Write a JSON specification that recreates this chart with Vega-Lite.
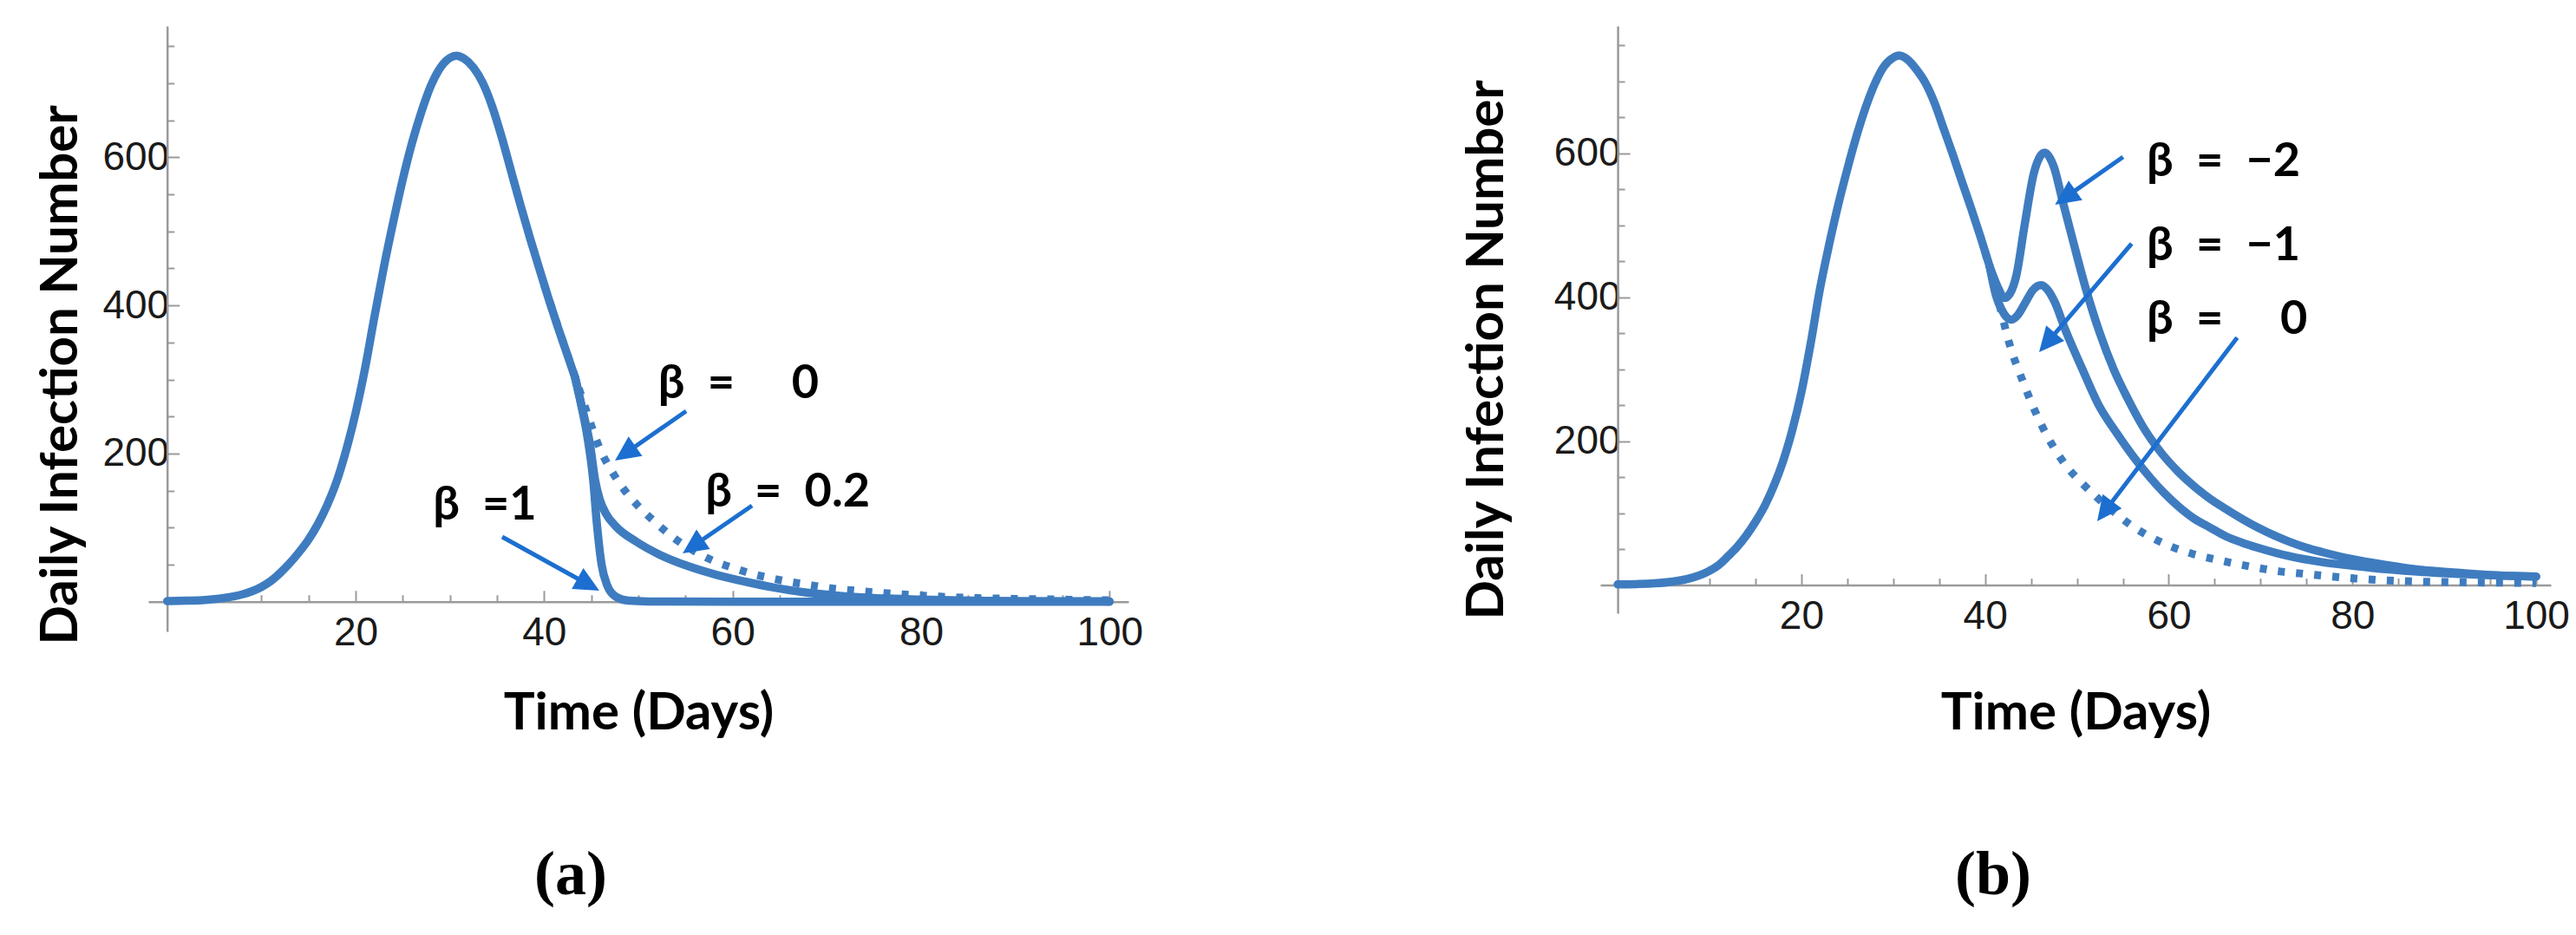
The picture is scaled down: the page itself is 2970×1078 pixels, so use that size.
{
  "$schema": "https://vega.github.io/schema/vega-lite/v6.json",
  "background": "white",
  "padding": {"left": 40, "top": 29, "right": 0, "bottom": 24},
  "spacing": 366,
  "config": {
    "view": {"stroke": null},
    "axis": {
      "grid": false,
      "domainColor": "#9a9a9a",
      "domainWidth": 2.5,
      "tickColor": "#9a9a9a",
      "tickWidth": 2,
      "labelFont": "Liberation Sans",
      "labelFontSize": 46,
      "labelColor": "#1a1a1a",
      "titleFont": "Lato",
      "titleFontSize": 60,
      "titleFontWeight": "bold",
      "titleColor": "#000000",
      "labelOverlap": false,
      "labelFlush": false
    }
  },
  "datasets": {
    "leftCurves": [
      {"series": "base", "day": 0, "value": 1},
      {"series": "base", "day": 2, "value": 1.5},
      {"series": "base", "day": 4, "value": 2.5},
      {"series": "base", "day": 6, "value": 5},
      {"series": "base", "day": 8, "value": 10},
      {"series": "base", "day": 10, "value": 20},
      {"series": "base", "day": 11, "value": 28},
      {"series": "base", "day": 12, "value": 39},
      {"series": "base", "day": 13, "value": 52},
      {"series": "base", "day": 14, "value": 67},
      {"series": "base", "day": 15, "value": 84},
      {"series": "base", "day": 16, "value": 105},
      {"series": "base", "day": 17, "value": 131},
      {"series": "base", "day": 18, "value": 163},
      {"series": "base", "day": 19, "value": 205},
      {"series": "base", "day": 20, "value": 255},
      {"series": "base", "day": 21, "value": 315},
      {"series": "base", "day": 22, "value": 385},
      {"series": "base", "day": 23, "value": 452},
      {"series": "base", "day": 24, "value": 513},
      {"series": "base", "day": 25, "value": 570},
      {"series": "base", "day": 26, "value": 620},
      {"series": "base", "day": 27, "value": 662},
      {"series": "base", "day": 28, "value": 697},
      {"series": "base", "day": 29, "value": 721},
      {"series": "base", "day": 30, "value": 734},
      {"series": "base", "day": 30.7, "value": 737},
      {"series": "base", "day": 31.5, "value": 733},
      {"series": "base", "day": 32.5, "value": 721},
      {"series": "base", "day": 33.5, "value": 700},
      {"series": "base", "day": 34.5, "value": 668},
      {"series": "base", "day": 35.5, "value": 627},
      {"series": "base", "day": 36.5, "value": 581},
      {"series": "base", "day": 37.5, "value": 535},
      {"series": "base", "day": 38.5, "value": 491},
      {"series": "base", "day": 39.5, "value": 449},
      {"series": "base", "day": 40.5, "value": 408},
      {"series": "base", "day": 41.5, "value": 369},
      {"series": "base", "day": 42.5, "value": 332},
      {"series": "base", "day": 43.3, "value": 302},
      {"series": "β = 1", "day": 43.3, "value": 302},
      {"series": "β = 1", "day": 44, "value": 262},
      {"series": "β = 1", "day": 44.6, "value": 222},
      {"series": "β = 1", "day": 45.2, "value": 165},
      {"series": "β = 1", "day": 45.6, "value": 105},
      {"series": "β = 1", "day": 46.1, "value": 50},
      {"series": "β = 1", "day": 46.7, "value": 22},
      {"series": "β = 1", "day": 47.6, "value": 7},
      {"series": "β = 1", "day": 49, "value": 1.5},
      {"series": "β = 1", "day": 51, "value": 0.5},
      {"series": "β = 1", "day": 60, "value": 0},
      {"series": "β = 1", "day": 100, "value": 0},
      {"series": "β = 0.2", "day": 43.3, "value": 302},
      {"series": "β = 0.2", "day": 44, "value": 263},
      {"series": "β = 0.2", "day": 44.9, "value": 210},
      {"series": "β = 0.2", "day": 45.4, "value": 165},
      {"series": "β = 0.2", "day": 45.9, "value": 138},
      {"series": "β = 0.2", "day": 46.6, "value": 118},
      {"series": "β = 0.2", "day": 47.6, "value": 102},
      {"series": "β = 0.2", "day": 49.8, "value": 81},
      {"series": "β = 0.2", "day": 52.2, "value": 64},
      {"series": "β = 0.2", "day": 55.3, "value": 48},
      {"series": "β = 0.2", "day": 58.4, "value": 36},
      {"series": "β = 0.2", "day": 61.4, "value": 27},
      {"series": "β = 0.2", "day": 64.5, "value": 19},
      {"series": "β = 0.2", "day": 67.5, "value": 13},
      {"series": "β = 0.2", "day": 70.6, "value": 9},
      {"series": "β = 0.2", "day": 73.7, "value": 6},
      {"series": "β = 0.2", "day": 80, "value": 3},
      {"series": "β = 0.2", "day": 90, "value": 1},
      {"series": "β = 0.2", "day": 100, "value": 0.5},
      {"series": "β = 0", "day": 40, "value": 428},
      {"series": "β = 0", "day": 41, "value": 389},
      {"series": "β = 0", "day": 42, "value": 351},
      {"series": "β = 0", "day": 43, "value": 314},
      {"series": "β = 0", "day": 44, "value": 276},
      {"series": "β = 0", "day": 45, "value": 238},
      {"series": "β = 0", "day": 46, "value": 204},
      {"series": "β = 0", "day": 47, "value": 180},
      {"series": "β = 0", "day": 48, "value": 160},
      {"series": "β = 0", "day": 49, "value": 143},
      {"series": "β = 0", "day": 50, "value": 129},
      {"series": "β = 0", "day": 52, "value": 105},
      {"series": "β = 0", "day": 54, "value": 84},
      {"series": "β = 0", "day": 56, "value": 68},
      {"series": "β = 0", "day": 58, "value": 55},
      {"series": "β = 0", "day": 60, "value": 46},
      {"series": "β = 0", "day": 62, "value": 38},
      {"series": "β = 0", "day": 64, "value": 32},
      {"series": "β = 0", "day": 66, "value": 27},
      {"series": "β = 0", "day": 68, "value": 23},
      {"series": "β = 0", "day": 70, "value": 19},
      {"series": "β = 0", "day": 74, "value": 14},
      {"series": "β = 0", "day": 78, "value": 10},
      {"series": "β = 0", "day": 82, "value": 7},
      {"series": "β = 0", "day": 86, "value": 5},
      {"series": "β = 0", "day": 90, "value": 4},
      {"series": "β = 0", "day": 95, "value": 3},
      {"series": "β = 0", "day": 100, "value": 2}
    ],
    "rightCurves": [
      {"series": "base", "day": 0, "value": 1},
      {"series": "base", "day": 2, "value": 1.5},
      {"series": "base", "day": 4, "value": 2.5},
      {"series": "base", "day": 6, "value": 5},
      {"series": "base", "day": 8, "value": 10},
      {"series": "base", "day": 10, "value": 20},
      {"series": "base", "day": 11, "value": 28},
      {"series": "base", "day": 12, "value": 40},
      {"series": "base", "day": 13, "value": 53},
      {"series": "base", "day": 14, "value": 69},
      {"series": "base", "day": 15, "value": 88},
      {"series": "base", "day": 16, "value": 110},
      {"series": "base", "day": 17, "value": 138},
      {"series": "base", "day": 18, "value": 172},
      {"series": "base", "day": 19, "value": 215},
      {"series": "base", "day": 20, "value": 268},
      {"series": "base", "day": 21, "value": 335},
      {"series": "base", "day": 22, "value": 410},
      {"series": "base", "day": 23, "value": 472},
      {"series": "base", "day": 24, "value": 528},
      {"series": "base", "day": 25, "value": 578},
      {"series": "base", "day": 26, "value": 624},
      {"series": "base", "day": 27, "value": 664},
      {"series": "base", "day": 28, "value": 697},
      {"series": "base", "day": 29, "value": 721},
      {"series": "base", "day": 30, "value": 733},
      {"series": "base", "day": 30.6, "value": 736},
      {"series": "base", "day": 31.5, "value": 731},
      {"series": "base", "day": 32.5, "value": 717},
      {"series": "base", "day": 33.5, "value": 698},
      {"series": "base", "day": 34.5, "value": 670},
      {"series": "base", "day": 35.5, "value": 634},
      {"series": "base", "day": 36.5, "value": 598},
      {"series": "base", "day": 37.5, "value": 560},
      {"series": "base", "day": 38.5, "value": 523},
      {"series": "base", "day": 39.5, "value": 484},
      {"series": "base", "day": 40.5, "value": 443},
      {"series": "β = −2", "day": 40.5, "value": 443},
      {"series": "β = −2", "day": 41, "value": 426},
      {"series": "β = −2", "day": 41.5, "value": 411},
      {"series": "β = −2", "day": 42.1, "value": 399},
      {"series": "β = −2", "day": 42.7, "value": 405},
      {"series": "β = −2", "day": 43.4, "value": 430},
      {"series": "β = −2", "day": 44.3, "value": 500},
      {"series": "β = −2", "day": 45.3, "value": 572},
      {"series": "β = −2", "day": 46, "value": 596},
      {"series": "β = −2", "day": 46.5, "value": 601},
      {"series": "β = −2", "day": 47, "value": 595},
      {"series": "β = −2", "day": 47.5, "value": 581},
      {"series": "β = −2", "day": 48.4, "value": 536},
      {"series": "β = −2", "day": 49.4, "value": 487},
      {"series": "β = −2", "day": 50.9, "value": 415},
      {"series": "β = −2", "day": 52.5, "value": 350},
      {"series": "β = −2", "day": 54, "value": 300},
      {"series": "β = −2", "day": 55.5, "value": 260},
      {"series": "β = −2", "day": 57.2, "value": 220},
      {"series": "β = −2", "day": 59.3, "value": 182},
      {"series": "β = −2", "day": 61, "value": 158},
      {"series": "β = −2", "day": 62.7, "value": 138},
      {"series": "β = −2", "day": 64.5, "value": 120},
      {"series": "β = −2", "day": 66.2, "value": 106},
      {"series": "β = −2", "day": 68, "value": 92},
      {"series": "β = −2", "day": 69.7, "value": 80},
      {"series": "β = −2", "day": 71.5, "value": 69},
      {"series": "β = −2", "day": 73.2, "value": 60},
      {"series": "β = −2", "day": 75, "value": 52},
      {"series": "β = −2", "day": 76.7, "value": 46},
      {"series": "β = −2", "day": 80, "value": 36},
      {"series": "β = −2", "day": 83.7, "value": 28},
      {"series": "β = −2", "day": 87, "value": 22},
      {"series": "β = −2", "day": 90.7, "value": 18},
      {"series": "β = −2", "day": 95, "value": 14},
      {"series": "β = −2", "day": 100, "value": 12},
      {"series": "β = −1", "day": 40.5, "value": 443},
      {"series": "β = −1", "day": 41.2, "value": 402},
      {"series": "β = −1", "day": 41.8, "value": 383},
      {"series": "β = −1", "day": 42.3, "value": 373},
      {"series": "β = −1", "day": 42.9, "value": 369},
      {"series": "β = −1", "day": 43.6, "value": 376},
      {"series": "β = −1", "day": 44.4, "value": 393},
      {"series": "β = −1", "day": 45.2, "value": 410},
      {"series": "β = −1", "day": 46.1, "value": 417},
      {"series": "β = −1", "day": 46.9, "value": 409},
      {"series": "β = −1", "day": 47.6, "value": 393},
      {"series": "β = −1", "day": 48.7, "value": 356},
      {"series": "β = −1", "day": 50.6, "value": 300},
      {"series": "β = −1", "day": 52.3, "value": 252},
      {"series": "β = −1", "day": 54.4, "value": 210},
      {"series": "β = −1", "day": 56.3, "value": 176},
      {"series": "β = −1", "day": 58, "value": 149},
      {"series": "β = −1", "day": 59.5, "value": 128},
      {"series": "β = −1", "day": 61, "value": 110},
      {"series": "β = −1", "day": 62.7, "value": 93},
      {"series": "β = −1", "day": 64.5, "value": 80},
      {"series": "β = −1", "day": 66.2, "value": 68},
      {"series": "β = −1", "day": 68, "value": 59},
      {"series": "β = −1", "day": 69.7, "value": 52},
      {"series": "β = −1", "day": 73.2, "value": 40},
      {"series": "β = −1", "day": 76.7, "value": 32},
      {"series": "β = −1", "day": 80, "value": 27},
      {"series": "β = −1", "day": 83.7, "value": 22},
      {"series": "β = −1", "day": 90.7, "value": 16},
      {"series": "β = −1", "day": 100, "value": 12},
      {"series": "β = 0", "day": 40, "value": 463},
      {"series": "β = 0", "day": 41, "value": 418},
      {"series": "β = 0", "day": 41.8, "value": 378},
      {"series": "β = 0", "day": 42.4, "value": 347},
      {"series": "β = 0", "day": 43, "value": 321},
      {"series": "β = 0", "day": 43.7, "value": 297},
      {"series": "β = 0", "day": 44.9, "value": 258},
      {"series": "β = 0", "day": 46.2, "value": 221},
      {"series": "β = 0", "day": 47.5, "value": 191},
      {"series": "β = 0", "day": 49, "value": 163},
      {"series": "β = 0", "day": 50.3, "value": 145},
      {"series": "β = 0", "day": 52, "value": 124},
      {"series": "β = 0", "day": 54, "value": 102},
      {"series": "β = 0", "day": 55.7, "value": 85},
      {"series": "β = 0", "day": 58, "value": 67},
      {"series": "β = 0", "day": 60.2, "value": 54},
      {"series": "β = 0", "day": 62.7, "value": 43},
      {"series": "β = 0", "day": 65, "value": 36},
      {"series": "β = 0", "day": 67.2, "value": 30},
      {"series": "β = 0", "day": 69.7, "value": 24},
      {"series": "β = 0", "day": 72.1, "value": 19},
      {"series": "β = 0", "day": 74.6, "value": 16},
      {"series": "β = 0", "day": 79.5, "value": 10},
      {"series": "β = 0", "day": 84.7, "value": 6},
      {"series": "β = 0", "day": 92, "value": 4},
      {"series": "β = 0", "day": 100, "value": 3}
    ],
    "leftLabels": [
      {"label": "β\u00a0\u00a0=\u00a0\u00a0\u00a0\u00a0\u00a00", "day": 52.1, "value": 275},
      {"label": "β\u00a0\u00a0=\u00a0\u00a00.2", "day": 57.1, "value": 129},
      {"label": "β\u00a0\u00a0=1", "day": 28.2, "value": 111}
    ],
    "rightLabels": [
      {"label": "β\u00a0\u00a0=\u00a0\u00a0−2", "day": 57.6, "value": 569},
      {"label": "β\u00a0\u00a0=\u00a0\u00a0−1", "day": 57.6, "value": 451},
      {"label": "β\u00a0\u00a0=\u00a0\u00a0\u00a0\u00a0\u00a00", "day": 57.6, "value": 349}
    ],
    "leftArrows": [
      {"id": "a0", "day": 55.07, "value": 257.3, "day2": 48.65, "value2": 200.6, "tipDay": 47.52, "tipValue": 190.6},
      {"id": "a02", "day": 62.06, "value": 129.7, "day2": 55.83, "value2": 75.3, "tipDay": 54.7, "tipValue": 65.3},
      {"id": "a1", "day": 35.55, "value": 87.6, "day2": 44.66, "value2": 23.5, "tipDay": 45.86, "tipValue": 15.0}
    ],
    "rightArrows": [
      {"id": "bm2", "day": 55.02, "value": 595.0, "day2": 48.78, "value2": 539.1, "tipDay": 47.62, "tipValue": 528.7},
      {"id": "bm1", "day": 55.96, "value": 474.5, "day2": 46.8, "value2": 337.6, "tipDay": 45.88, "tipValue": 323.9},
      {"id": "b0", "day": 67.45, "value": 344.0, "day2": 53.07, "value2": 103.2, "tipDay": 52.21, "tipValue": 88.8}
    ]
  },
  "hconcat": [
    {
      "width": 1130,
      "height": 698,
      "title": {"text": "(a)", "orient": "bottom", "font": "Liberation Serif", "fontSize": 72, "fontWeight": "bold", "color": "#000000", "dx": -78, "offset": 121},
      "encoding": {
        "x": {
          "field": "day", "type": "quantitative",
          "scale": {"domain": [-2, 102], "nice": false, "zero": false},
          "axis": {
            "title": "Time (Days)",
            "values": [5, 10, 15, 20, 25, 30, 35, 40, 45, 50, 55, 60, 65, 70, 75, 80, 85, 90, 95, 100],
            "tickSize": {"condition": {"test": "datum.value % 20 === 0", "value": -13}, "value": -8},
            "labelExpr": "datum.value % 20 === 0 ? datum.label : ''",
            "offset": -34.2,
            "labelPadding": 27,
            "titlePadding": 36
          }
        },
        "y": {
          "field": "value", "type": "quantitative",
          "scale": {"domain": [-40, 777], "nice": false, "zero": false},
          "axis": {
            "title": "Daily Infection Number",
            "values": [50, 100, 150, 200, 250, 300, 350, 400, 450, 500, 550, 600, 650, 700, 750],
            "tickSize": {"condition": {"test": "datum.value % 200 === 0", "value": -14}, "value": -8},
            "labelExpr": "datum.value % 200 === 0 ? datum.label : ''",
            "offset": -21.7,
            "labelPadding": 12,
            "titlePadding": 16,
            "titleY": 402
          }
        }
      },
      "layer": [
        {
          "data": {"name": "leftCurves"},
          "transform": [{"filter": "datum.series === 'β = 0'"}],
          "mark": {"type": "line", "color": "#3f7cbf", "strokeWidth": 9, "strokeDash": [8, 13], "strokeCap": "butt", "interpolate": "monotone"},
          "encoding": {"detail": {"field": "series"}}
        },
        {
          "data": {"name": "leftCurves"},
          "transform": [{"filter": "datum.series !== 'β = 0'"}],
          "mark": {"type": "line", "color": "#3f7cbf", "strokeWidth": 9.5, "strokeCap": "round", "strokeJoin": "round", "interpolate": "monotone"},
          "encoding": {"detail": {"field": "series"}}
        },
        {
          "data": {"name": "leftArrows"},
          "mark": {"type": "rule", "color": "#1c6fd0", "strokeWidth": 5},
          "encoding": {"x2": {"field": "day2"}, "y2": {"field": "value2"}}
        },
        {
          "data": {"name": "leftArrows"},
          "transform": [{"filter": "datum.id === 'a0'"}],
          "mark": {"type": "point", "shape": "M0,0 L0.55,1.15 L-0.55,1.15 Z", "filled": true, "color": "#1c6fd0", "opacity": 1, "size": 2500, "angle": 235},
          "encoding": {"x": {"field": "tipDay", "type": "quantitative"}, "y": {"field": "tipValue", "type": "quantitative"}}
        },
        {
          "data": {"name": "leftArrows"},
          "transform": [{"filter": "datum.id === 'a02'"}],
          "mark": {"type": "point", "shape": "M0,0 L0.55,1.15 L-0.55,1.15 Z", "filled": true, "color": "#1c6fd0", "opacity": 1, "size": 2500, "angle": 235.5},
          "encoding": {"x": {"field": "tipDay", "type": "quantitative"}, "y": {"field": "tipValue", "type": "quantitative"}}
        },
        {
          "data": {"name": "leftArrows"},
          "transform": [{"filter": "datum.id === 'a1'"}],
          "mark": {"type": "point", "shape": "M0,0 L0.55,1.15 L-0.55,1.15 Z", "filled": true, "color": "#1c6fd0", "opacity": 1, "size": 2500, "angle": 119},
          "encoding": {"x": {"field": "tipDay", "type": "quantitative"}, "y": {"field": "tipValue", "type": "quantitative"}}
        },
        {
          "data": {"name": "leftLabels"},
          "mark": {"type": "text", "align": "left", "baseline": "alphabetic", "font": "Lato, Open Sans, sans-serif", "fontSize": 54, "fontWeight": "bold", "color": "#000000"},
          "encoding": {"text": {"field": "label"}}
        }
      ]
    },
    {
      "width": 1096,
      "height": 677,
      "title": {"text": "(b)", "orient": "bottom", "font": "Liberation Serif", "fontSize": 72, "fontWeight": "bold", "color": "#000000", "dx": -95, "offset": 121},
      "encoding": {
        "x": {
          "field": "day", "type": "quantitative",
          "scale": {"domain": [-1.9, 101.6], "nice": false, "zero": false},
          "axis": {
            "title": "Time (Days)",
            "values": [5, 10, 15, 20, 25, 30, 35, 40, 45, 50, 55, 60, 65, 70, 75, 80, 85, 90, 95, 100],
            "tickSize": {"condition": {"test": "datum.value % 20 === 0", "value": -13}, "value": -8},
            "labelExpr": "datum.value % 20 === 0 ? datum.label : ''",
            "offset": -32.4,
            "labelPadding": 27,
            "titlePadding": 55
          }
        },
        "y": {
          "field": "value", "type": "quantitative",
          "scale": {"domain": [-39, 777], "nice": false, "zero": false},
          "axis": {
            "title": "Daily Infection Number",
            "values": [50, 100, 150, 200, 250, 300, 350, 400, 450, 500, 550, 600, 650, 700, 750],
            "tickSize": {"condition": {"test": "datum.value % 200 === 0", "value": -14}, "value": -8},
            "labelExpr": "datum.value % 200 === 0 ? datum.label : ''",
            "offset": -20.1,
            "labelPadding": 11,
            "titlePadding": 46,
            "titleY": 373
          }
        }
      },
      "layer": [
        {
          "data": {"name": "rightCurves"},
          "transform": [{"filter": "datum.series === 'β = 0'"}],
          "mark": {"type": "line", "color": "#3f7cbf", "strokeWidth": 9, "strokeDash": [8, 13], "strokeCap": "butt", "interpolate": "monotone"},
          "encoding": {"detail": {"field": "series"}}
        },
        {
          "data": {"name": "rightCurves"},
          "transform": [{"filter": "datum.series !== 'β = 0'"}],
          "mark": {"type": "line", "color": "#3f7cbf", "strokeWidth": 9.5, "strokeCap": "round", "strokeJoin": "round", "interpolate": "monotone"},
          "encoding": {"detail": {"field": "series"}}
        },
        {
          "data": {"name": "rightArrows"},
          "mark": {"type": "rule", "color": "#1c6fd0", "strokeWidth": 5},
          "encoding": {"x2": {"field": "day2"}, "y2": {"field": "value2"}}
        },
        {
          "data": {"name": "rightArrows"},
          "transform": [{"filter": "datum.id === 'bm2'"}],
          "mark": {"type": "point", "shape": "M0,0 L0.55,1.15 L-0.55,1.15 Z", "filled": true, "color": "#1c6fd0", "opacity": 1, "size": 2500, "angle": 235},
          "encoding": {"x": {"field": "tipDay", "type": "quantitative"}, "y": {"field": "tipValue", "type": "quantitative"}}
        },
        {
          "data": {"name": "rightArrows"},
          "transform": [{"filter": "datum.id === 'bm1'"}],
          "mark": {"type": "point", "shape": "M0,0 L0.55,1.15 L-0.55,1.15 Z", "filled": true, "color": "#1c6fd0", "opacity": 1, "size": 2500, "angle": 220.5},
          "encoding": {"x": {"field": "tipDay", "type": "quantitative"}, "y": {"field": "tipValue", "type": "quantitative"}}
        },
        {
          "data": {"name": "rightArrows"},
          "transform": [{"filter": "datum.id === 'b0'"}],
          "mark": {"type": "point", "shape": "M0,0 L0.55,1.15 L-0.55,1.15 Z", "filled": true, "color": "#1c6fd0", "opacity": 1, "size": 2500, "angle": 217},
          "encoding": {"x": {"field": "tipDay", "type": "quantitative"}, "y": {"field": "tipValue", "type": "quantitative"}}
        },
        {
          "data": {"name": "rightLabels"},
          "mark": {"type": "text", "align": "left", "baseline": "alphabetic", "font": "Lato, Open Sans, sans-serif", "fontSize": 54, "fontWeight": "bold", "color": "#000000"},
          "encoding": {"text": {"field": "label"}}
        }
      ]
    }
  ]
}
